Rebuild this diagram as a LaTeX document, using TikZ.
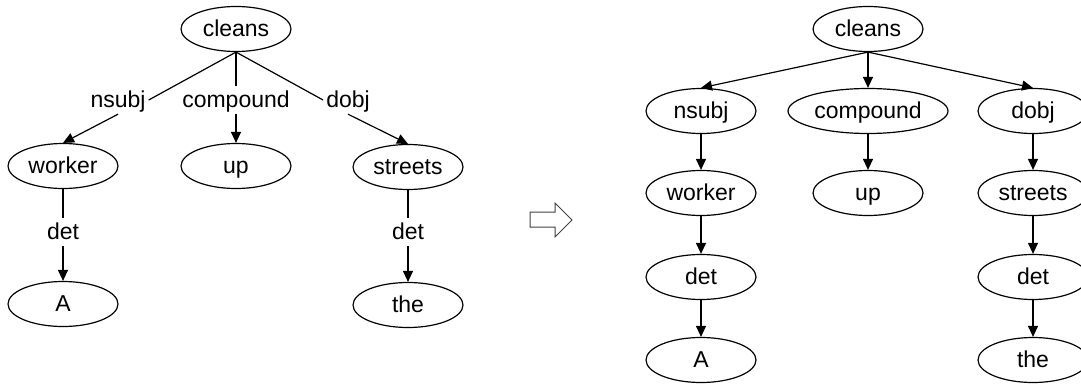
\documentclass[tikz,border=0pt]{standalone}
\usepackage{fontspec}
\setmainfont{Liberation Sans}
\usetikzlibrary{arrows.meta,shapes.geometric}

\begin{document}
\begin{tikzpicture}[x=1pt,y=-1pt,
  word/.style={draw,ellipse,line width=1.2pt,inner sep=0pt,minimum width=110pt,minimum height=45pt,text height=18pt,text depth=4pt,font=\fontsize{23}{28}\selectfont},
  rel/.style={inner sep=3pt,text height=18pt,text depth=4pt,font=\fontsize{23}{28}\selectfont},
  dep/.style={line width=1.2pt,-{Triangle[length=11pt,width=10pt]}},
  seg/.style={line width=1.2pt}]
\useasboundingbox (0,0) rectangle (1081,383);
% left tree, relation names on the edges
\node (cleansL) [word] at (236,29) {cleans};
\node (nsubjL) [rel] at (118,100) {nsubj};
\node (compoundL) [rel] at (236,100) {compound};
\node (dobjL) [rel] at (348,100) {dobj};
\node (workerL) [word] at (63,166) {worker};
\node (upL) [word] at (236,166) {up};
\node (streetsL) [word] at (408,167) {streets};
\node (detLa) [rel] at (63,232) {det};
\node (detLb) [rel] at (408,232) {det};
\node (AL) [word] at (63,304) {A};
\node (theL) [word] at (408,305) {the};
\draw [seg] (cleansL.south) -- (nsubjL.east);
\draw [dep] (nsubjL.south) -- (workerL.north);
\draw [seg] (cleansL.south) -- (compoundL.north);
\draw [dep] (compoundL.south) -- (upL.north);
\draw [seg] (cleansL.south) -- (dobjL.west);
\draw [dep] (dobjL.south) -- (streetsL.north);
\draw [seg] (workerL.south) -- (detLa.north);
\draw [dep] (detLa.south) -- (AL.north);
\draw [seg] (streetsL.south) -- (detLb.north);
\draw [dep] (detLb.south) -- (theL.north);
% hollow arrow
\draw [line width=1pt,black!75] (530,212) -- (555,212) -- (555,203) -- (572,220) -- (555,237) -- (555,227) -- (530,227) -- cycle;
% right tree, relation names as nodes
\node (cleansR) [word] at (868,29) {cleans};
\node (nsubjR) [word] at (701,111) {nsubj};
\node (compoundR) [word,minimum width=160pt] at (868,111) {compound};
\node (dobjR) [word] at (1033,111) {dobj};
\node (workerR) [word] at (701,193) {worker};
\node (upR) [word] at (868,193) {up};
\node (streetsR) [word] at (1033,193) {streets};
\node (detRa) [word] at (701,277) {det};
\node (detRb) [word] at (1033,277) {det};
\node (AR) [word] at (701,360) {A};
\node (theR) [word] at (1033,360) {the};
\draw [dep] (cleansR.south) -- (nsubjR.north);
\draw [dep] (cleansR.south) -- (compoundR.north);
\draw [dep] (cleansR.south) -- (dobjR.north);
\draw [dep] (nsubjR) -- (workerR);
\draw [dep] (compoundR) -- (upR);
\draw [dep] (dobjR) -- (streetsR);
\draw [dep] (workerR) -- (detRa);
\draw [dep] (detRa) -- (AR);
\draw [dep] (streetsR) -- (detRb);
\draw [dep] (detRb) -- (theR);
\end{tikzpicture}
\end{document}
